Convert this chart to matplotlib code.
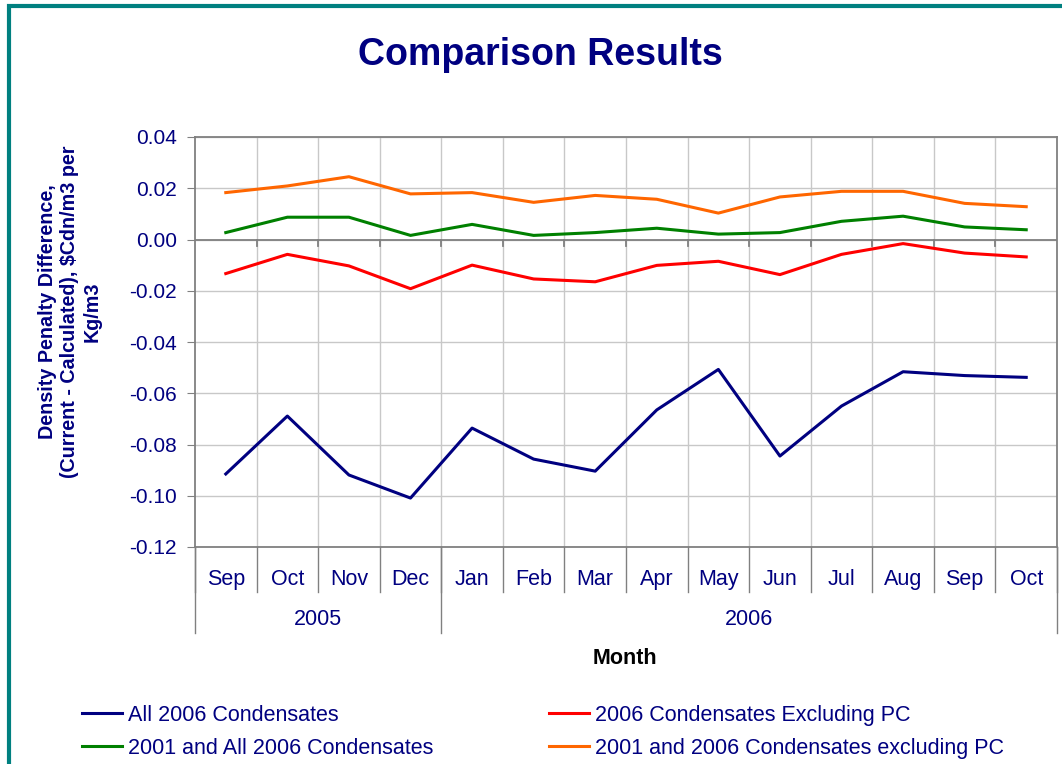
import matplotlib
matplotlib.use('Agg')
import matplotlib.pyplot as plt
import matplotlib.transforms as mtransforms
from matplotlib.patches import Rectangle
import numpy as np

plt.rcParams['font.family'] = ['Liberation Sans', 'DejaVu Sans']

# data
months = ['Sep', 'Oct', 'Nov', 'Dec', 'Jan', 'Feb', 'Mar', 'Apr', 'May', 'Jun', 'Jul', 'Aug', 'Sep', 'Oct']
years = ['2005', '2006']
year_counts = [4, 10]

all_2006 = [-0.0915, -0.0689, -0.0919, -0.1009, -0.0736, -0.0857, -0.0904,
            -0.0665, -0.0507, -0.0845, -0.0650, -0.0516, -0.0531, -0.0538]
excl_pc_2006 = [-0.0133, -0.0058, -0.0103, -0.0192, -0.0100, -0.0154, -0.0165,
                -0.0101, -0.0085, -0.0137, -0.0058, -0.0016, -0.0053, -0.0068]
all_2001_2006 = [0.0027, 0.0087, 0.0087, 0.0016, 0.0059, 0.0016, 0.0027,
                 0.0044, 0.0021, 0.0027, 0.0071, 0.0091, 0.0049, 0.0038]
excl_pc_2001_2006 = [0.0183, 0.0209, 0.0245, 0.0178, 0.0183, 0.0145, 0.0172,
                     0.0157, 0.0103, 0.0166, 0.0188, 0.0188, 0.0141, 0.0128]

yticks = [0.04, 0.02, 0.0, -0.02, -0.04, -0.06, -0.08, -0.10, -0.12]

NAVY = '#000080'
GRID = '#C8C8C8'
AXC = '#808080'

fig = plt.figure(figsize=(10.62, 7.64), dpi=100)
W, H = 1062, 764

# teal frame (left and top visible)
fig.patches.append(Rectangle((9 / W, -0.1), 1.2, (764 - 6) / H + 0.1, transform=fig.transFigure,
                             fill=False, edgecolor='#008080', linewidth=3, zorder=0))

ax = fig.add_axes([195 / W, (H - 547) / H, (1057 - 195) / W, (547 - 137) / H])

x = np.arange(len(months)) + 0.5
ax.plot(x, all_2006, color=NAVY, lw=2.2, label='All 2006 Condensates', zorder=4)
ax.plot(x, all_2001_2006, color='#008000', lw=2.2, label='2001 and All 2006 Condensates', zorder=4)
ax.plot(x, excl_pc_2006, color='#FF0000', lw=2.2, label='2006 Condensates Excluding PC', zorder=4)
ax.plot(x, excl_pc_2001_2006, color='#FF6600', lw=2.2, label='2001 and 2006 Condensates excluding PC', zorder=4)

ax.set_xlim(0, len(months))
ax.set_ylim(-0.12, 0.04)
ax.set_yticks(yticks)
ax.set_yticklabels(['%.2f' % v for v in yticks], color=NAVY, fontsize=15)
ax.tick_params(axis='y', direction='out', length=6, color=AXC, pad=7)
ax.set_xticks([])

for v in yticks:
    ax.axhline(v, color=GRID, lw=1, zorder=1)
for i in range(1, len(months)):
    ax.axvline(i, color=GRID, lw=1, zorder=1)
for s in ax.spines.values():
    s.set_color(AXC)
    s.set_linewidth(1.3)

# category axis crossing at zero with ticks
ax.axhline(0, color=AXC, lw=1.3, zorder=2)
for i in range(1, len(months)):
    ax.plot([i, i], [0, -0.0024], color=AXC, lw=1.3, zorder=2)

# two-level category labels
trans = mtransforms.blended_transform_factory(ax.transData, ax.transAxes)
for xi, m in zip(x, months):
    ax.text(xi, -0.079, m, transform=trans, ha='center', va='center', color=NAVY, fontsize=15.5)
for i in range(len(months) + 1):
    ax.plot([i, i], [0, -0.11], transform=trans, color=AXC, lw=1, clip_on=False)
start = 0
for yr, n in zip(years, year_counts):
    ax.text(start + n / 2, -0.178, yr, transform=trans, ha='center', va='center', color=NAVY, fontsize=15.5)
    ax.plot([start, start], [0, -0.21], transform=trans, color=AXC, lw=1, clip_on=False)
    start += n
ax.plot([start, start], [0, -0.21], transform=trans, color=AXC, lw=1, clip_on=False)

fig.text(625 / W, 1 - 658 / H, 'Month', ha='center', va='center', fontsize=15.5, fontweight='bold', color='black')
fig.text(540 / W, 1 - 55 / H, 'Comparison Results', ha='center', va='center', fontsize=27,
         fontweight='bold', color=NAVY)
fig.text(70 / W, 1 - 312 / H, 'Density Penalty Difference,\n(Current - Calculated), $Cdn/m3 per\nKg/m3',
         rotation=90, ha='center', va='center', fontsize=14.2, fontweight='bold', color=NAVY,
         multialignment='center', linespacing=1.2)

leg = fig.legend(loc='upper left', bbox_to_anchor=(71 / W, 1 - 694 / H), ncol=2, frameon=False,
                 fontsize=15.5, handlelength=1.85, handletextpad=0.28, columnspacing=5.4,
                 labelspacing=0.55, borderpad=0)
for t in leg.get_texts():
    t.set_color(NAVY)

fig.savefig('out.png', dpi=100)
